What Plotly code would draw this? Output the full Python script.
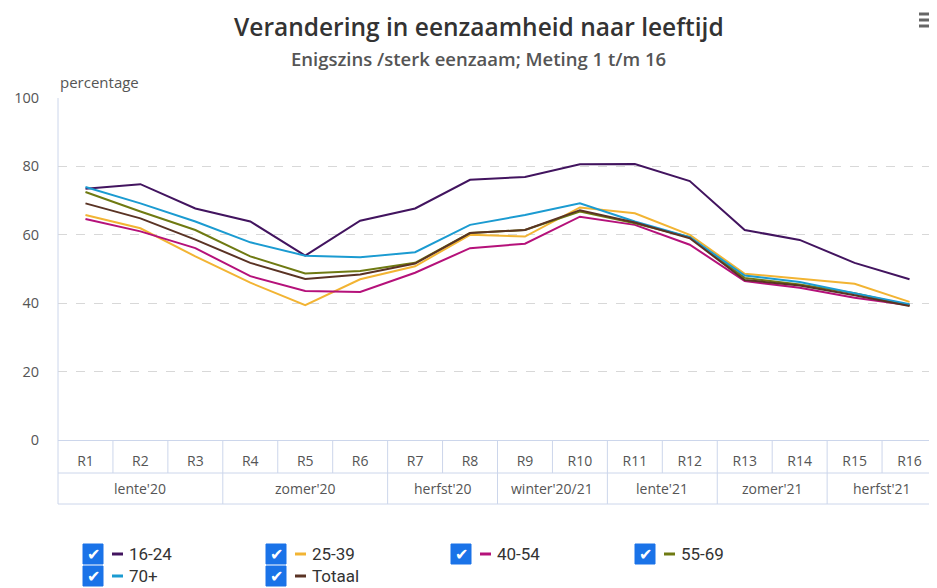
import plotly.graph_objects as go

rondes = ["R1", "R2", "R3", "R4", "R5", "R6", "R7", "R8",
          "R9", "R10", "R11", "R12", "R13", "R14", "R15", "R16"]

seizoenen = ["lente'20", "zomer'20", "herfst'20", "winter'20/21",
             "lente'21", "zomer'21", "herfst'21"]
seizoen_lengte = [3, 3, 2, 2, 2, 2, 2]

leeftijd_16_24 = [73.5, 74.8, 67.7, 63.9, 53.9, 64.1, 67.7, 76.1,
                  76.9, 80.6, 80.7, 75.7, 61.4, 58.5, 51.8, 47.0]
leeftijd_25_39 = [65.8, 61.9, 53.7, 46.0, 39.4, 47.0, 50.8, 60.0,
                  59.5, 68.0, 66.3, 60.0, 48.6, 47.1, 45.7, 40.4]
leeftijd_40_54 = [64.6, 61.0, 56.1, 47.9, 43.6, 43.3, 48.9, 56.1,
                  57.4, 65.3, 62.9, 57.1, 46.5, 44.5, 41.6, 39.4]
leeftijd_55_69 = [72.5, 66.8, 61.4, 53.7, 48.7, 49.4, 51.8, 60.5,
                  61.4, 66.8, 63.4, 59.3, 47.4, 45.5, 42.9, 39.4]
leeftijd_70 = [74.0, 69.2, 63.9, 57.8, 53.9, 53.4, 54.9, 62.9,
               65.8, 69.2, 63.9, 59.3, 48.1, 46.2, 42.9, 39.7]
totaal = [69.2, 64.8, 58.6, 51.8, 47.1, 48.4, 51.6, 60.5,
          61.4, 67.2, 63.6, 59.0, 46.8, 45.2, 42.3, 39.2]

reeksen = [
    ("16-24", leeftijd_16_24, "#42145f"),
    ("25-39", leeftijd_25_39, "#f2b433"),
    ("40-54", leeftijd_40_54, "#b5117a"),
    ("55-69", leeftijd_55_69, "#6f7a12"),
    ("70+", leeftijd_70, "#1b9bd1"),
    ("Totaal", totaal, "#5a3324"),
]

grid_kleur = "#ccd6eb"
tekst_kleur = "#555555"
font = "Open Sans"

# pagina heeft 8px body-marge; plotgebied loopt van x=58..937, y=98..440
L, T, PW, PH = 58, 98, 879, 342


def px(x):
    return (x - L) / PW


def py(y):
    return (T + PH - y) / PH


fig = go.Figure()
for naam, waarden, kleur in reeksen:
    fig.add_trace(go.Scatter(x=rondes, y=waarden, name=naam, mode="lines",
                             line=dict(color=kleur, width=2)))

shapes = []
annotations = []

# tabel onder de x-as (rondes + seizoenen)
rij1, rij2 = py(473), py(504)
for y in (rij1, rij2):
    shapes.append(dict(type="line", xref="paper", yref="paper", x0=0, x1=1,
                       y0=y, y1=y, line=dict(color=grid_kleur, width=1)))
shapes.append(dict(type="line", xref="paper", yref="paper", x0=0, x1=0,
                   y0=rij2, y1=1, line=dict(color=grid_kleur, width=1)))
for i in range(1, len(rondes)):
    shapes.append(dict(type="line", xref="x", yref="paper", x0=i - 0.5, x1=i - 0.5,
                       y0=rij1, y1=0, line=dict(color=grid_kleur, width=1)))
start = 0
for seizoen, n in zip(seizoenen, seizoen_lengte):
    eind = start + n
    if eind < len(rondes):
        shapes.append(dict(type="line", xref="x", yref="paper", x0=eind - 0.5,
                           x1=eind - 0.5, y0=rij2, y1=rij1,
                           line=dict(color=grid_kleur, width=1)))
    annotations.append(dict(x=(start + eind - 1) / 2, y=py(488),
                            xref="x", yref="paper", text=seizoen, showarrow=False,
                            yanchor="middle",
                            font=dict(family=font, size=14, color=tekst_kleur)))
    start = eind

fig.update_layout(
    width=929, height=580,
    margin=dict(l=50, r=0, t=90, b=148),
    plot_bgcolor="white", paper_bgcolor="white",
    showlegend=False,
    xaxis=dict(type="category", showgrid=False, showline=False, zeroline=False,
               ticks="", ticklabelstandoff=11,
               tickfont=dict(family=font, size=14, color=tekst_kleur),
               range=[-0.5, 15.5]),
    yaxis=dict(range=[0, 100], tickvals=[0, 20, 40, 60, 80, 100],
               showgrid=True, gridcolor="#d8d8d8", griddash="dash", gridwidth=1,
               zeroline=True, zerolinecolor=grid_kleur, zerolinewidth=1,
               showline=False, ticks="", ticklabelstandoff=18,
               tickfont=dict(family=font, size=14.5, color=tekst_kleur)),
)

# titel, ondertitel, as-titel en menu-icoon
annotations.append(dict(xref="paper", yref="paper", x=px(479), y=py(26),
                        xanchor="center", yanchor="middle", showarrow=False,
                        text="Verandering in eenzaamheid naar leeftijd",
                        font=dict(family="Open Sans", size=24.5, color="#333333", weight=600)))
annotations.append(dict(xref="paper", yref="paper", x=px(478), y=py(58),
                        xanchor="center", yanchor="middle", showarrow=False,
                        text="Enigszins /sterk eenzaam; Meting 1 t/m 16",
                        font=dict(family="Open Sans", size=18.5, color="#555555", weight=600)))
annotations.append(dict(xref="paper", yref="paper", x=0, y=py(82),
                        xanchor="left", yanchor="middle", showarrow=False,
                        text="percentage",
                        font=dict(family=font, size=15, color=tekst_kleur)))
for y in (14, 20, 26):
    shapes.append(dict(type="line", xref="paper", yref="paper", x0=px(919), x1=px(935),
                       y0=py(y), y1=py(y), line=dict(color="#666666", width=3)))

# legenda met aangevinkte vakjes
kolom_x = [83, 266, 451, 635]
rij_y = [554, 576]
for i, (naam, waarden, kleur) in enumerate(reeksen):
    bx = kolom_x[i % 4]
    by = rij_y[i // 4]
    shapes.append(dict(type="rect", xref="paper", yref="paper", x0=px(bx), x1=px(bx + 20),
                       y0=py(by + 10), y1=py(by - 10), fillcolor="#1a73e8",
                       line=dict(color="#1a73e8", width=1)))
    annotations.append(dict(xref="paper", yref="paper", x=px(bx + 10), y=py(by),
                            xanchor="center", yanchor="middle", showarrow=False,
                            text="<b>✔</b>",
                            font=dict(family="DejaVu Sans", size=16, color="white")))
    shapes.append(dict(type="line", xref="paper", yref="paper", x0=px(bx + 29), x1=px(bx + 40),
                       y0=py(by), y1=py(by), line=dict(color=kleur, width=3)))
    annotations.append(dict(xref="paper", yref="paper", x=px(bx + 44), y=py(by),
                            xanchor="left", yanchor="middle", showarrow=False,
                            text=naam, font=dict(family="Roboto", size=17, color="#333333")))

fig.update_layout(shapes=shapes, annotations=annotations)

fig.write_html("out.html")
